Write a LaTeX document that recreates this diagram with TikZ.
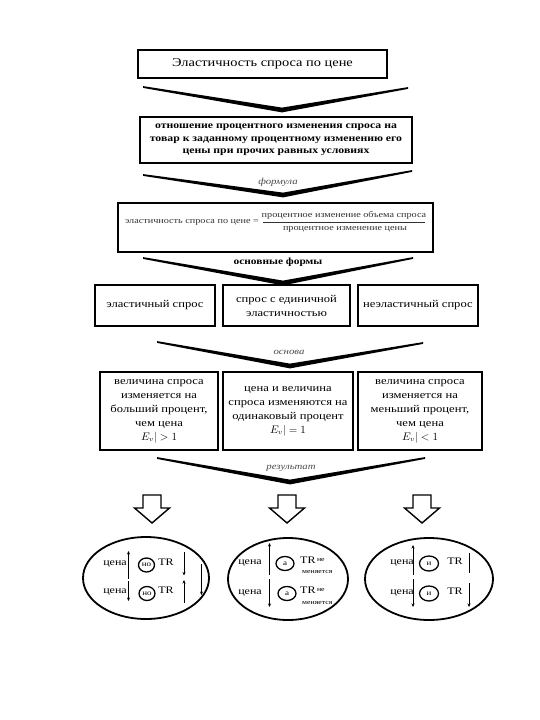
\documentclass[tikz,border=0pt]{standalone}
\usepackage{fontspec}
\setmainfont{Liberation Serif}[FakeStretch=1.2]
\usetikzlibrary{calc,arrows.meta,shapes.geometric}
\newcommand\chevdraw[3]{\fill ($(#1)+(0,-0.9)$) -- ($(#2)+(0,-2.4)$) -- ($(#3)+(0,-0.9)$) -- ($(#3)+(0,0.9)$) -- ($(#2)+(0,2.4)$) -- ($(#1)+(0,0.9)$) -- cycle;}
\newcommand\blockarrow[1]{\draw[line width=1.4pt, fill=white, line join=miter] ($(#1)+(-9,-28)$) -- ($(#1)+(9,-28)$) -- ($(#1)+(9,-15)$) -- ($(#1)+(17.5,-15)$) -- (#1) -- ($(#1)+(-17.5,-15)$) -- ($(#1)+(-9,-15)$) -- cycle;}
\begin{document}
\begin{tikzpicture}[x=1pt,y=-1pt,
  box/.style={draw, line width=1.8pt, align=center, inner sep=0pt},
  rowtext/.style={font=\fontsize{10.5}{14}\selectfont},
  lbl/.style={font=\fontsize{9}{10}\selectfont\itshape, text=black!70},
  oval/.style={draw, ellipse, line width=1.8pt, inner sep=0pt},
  ring/.style={draw, ellipse, line width=1.3pt, inner sep=0pt, minimum width=16, minimum height=14, font=\fontsize{7.5}{8}\selectfont},
  small/.style={font=\fontsize{10}{11}\selectfont, inner sep=0pt},
  tiny/.style={font=\fontsize{6.5}{7}\selectfont, inner sep=0pt, anchor=west},
  arr/.style={line width=0.8pt, -{Stealth[length=3.5pt,width=3pt]}},
  bar/.style={line width=0.8pt}]
\useasboundingbox (0,0) rectangle (540,720);
\fill[white] (0,0) rectangle (540,720);

% boxes
\node[box, line width=1.4pt, minimum width=249, minimum height=28, font=\fontsize{12}{14}\selectfont] (title) at (262.5,64) {Эластичность спроса по цене};
\node[box, minimum width=272, minimum height=46, font=\fontsize{9.8}{12.5}\selectfont\bfseries] (def) at (276,140) {отношение процентного изменения спроса на\\товар к заданному процентному изменению его\\цены при прочих равных условиях};
\node[box, minimum width=315, minimum height=49] (formula) at (275.5,227.5) {};
\node[font=\fontsize{8.5}{10}\selectfont, text=black!80, inner sep=0pt] (fl) at (192,222) {эластичность спроса по цене =};
\node[font=\fontsize{8.5}{10}\selectfont, text=black!80, inner sep=0pt] (fn) at (344,215) {процентное изменение объема спроса};
\node[font=\fontsize{8.5}{10}\selectfont, text=black!80, inner sep=0pt] (fd) at (345,229.5) {процентное изменение цены};
\coordinate (fa) at (263,222.5);
\coordinate (fb) at (425,222.5);
\draw[line width=0.6pt, black!80] (fa) -- (fb);

\node[box, rowtext, minimum width=120, minimum height=41] (f1) at (155,305.5) {эластичный спрос};
\node[box, rowtext, minimum width=127, minimum height=41] (f2) at (286.5,305.5) {спрос с единичной\\эластичностью};
\node[box, rowtext, minimum width=120, minimum height=41] (f3) at (418,305.5) {неэластичный спрос};

\node[box, rowtext, minimum width=118, minimum height=78] (b1) at (159,411) {величина спроса\\изменяется на\\больший процент,\\чем цена\\$E_v|>1$};
\node[box, rowtext, minimum width=130, minimum height=78] (b2) at (288,411) {цена и величина\\спроса изменяются на\\одинаковый процент\\$E_v|=1$};
\node[box, rowtext, minimum width=124, minimum height=78] (b3) at (420,411) {величина спроса\\изменяется на\\меньший процент,\\чем цена\\$E_v|<1$};

% chevrons
\coordinate (c1l) at (143,87);  \coordinate (c1t) at (282,110); \coordinate (c1r) at (408,88);
\coordinate (c2l) at (143,175); \coordinate (c2t) at (283,195); \coordinate (c2r) at (412,171);
\coordinate (c3l) at (143,258); \coordinate (c3t) at (283,283); \coordinate (c3r) at (413,258);
\coordinate (c4l) at (157,342); \coordinate (c4t) at (290,366); \coordinate (c4r) at (423,343);
\coordinate (c5l) at (157,458); \coordinate (c5t) at (290,482); \coordinate (c5r) at (425,458);
\chevdraw{c1l}{c1t}{c1r}
\chevdraw{c2l}{c2t}{c2r}
\chevdraw{c3l}{c3t}{c3r}
\chevdraw{c4l}{c4t}{c4r}
\chevdraw{c5l}{c5t}{c5r}
\node[lbl] (l2) at (278,182) {формула};
\node[font=\fontsize{9.5}{10}\selectfont\bfseries] (l3) at (278,262) {основные формы};
\node[lbl] (l4) at (289,352) {основа};
\node[lbl] (l5) at (291,468) {результат};

% block arrows
\coordinate (a1) at (152,523); \blockarrow{a1}
\coordinate (a2) at (287,523); \blockarrow{a2}
\coordinate (a3) at (422,523); \blockarrow{a3}

% ellipses
\node[oval, minimum width=126, minimum height=82] (e1) at (146,578) {};
\node[oval, minimum width=120, minimum height=82] (e2) at (288,579) {};
\node[oval, minimum width=128, minimum height=82] (e3) at (429,579) {};

% ellipse 1
\node[small] (p11) at (115,564.5) {цена};
\node[small] (p12) at (115,592.5) {цена};
\node[ring] (r11) at (146.5,565) {но};
\node[ring] (r12) at (147,593.5) {но};
\node[small] (t11) at (166,562) {TR};
\node[small] (t12) at (166,590) {TR};
\coordinate (u11a) at (128.5,579); \coordinate (u11b) at (128.5,551);
\coordinate (u12a) at (128.5,581); \coordinate (u12b) at (128.5,601);
\coordinate (v11a) at (184,552); \coordinate (v11b) at (184,575.5);
\coordinate (v12a) at (184,603); \coordinate (v12b) at (184,580);
\coordinate (w1a) at (201.5,564); \coordinate (w1b) at (201.5,595);
\draw[arr] (u11a) -- (u11b);
\draw[arr] (u12a) -- (u12b);
\draw[arr] (v11a) -- (v11b);
\draw[arr] (v12a) -- (v12b);
\draw[arr] (w1a) -- (w1b);

% ellipse 2
\node[small] (p21) at (250,563.5) {цена};
\node[small] (p22) at (250,593.5) {цена};
\node[ring, minimum width=18] (r21) at (285,563.5) {а};
\node[ring, minimum width=18] (r22) at (287,593.5) {а};
\node[small, anchor=west] (t21) at (300,560) {TR};
\node[tiny] (n21) at (t21.east) {\,не};
\node[tiny] (m21) at (302,572) {меняется};
\node[small, anchor=west] (t22) at (300,590) {TR};
\node[tiny] (n22) at (t22.east) {\,не};
\node[tiny] (m22) at (302,603) {меняется};
\coordinate (u21a) at (269.5,575); \coordinate (u21b) at (269.5,543);
\coordinate (u22a) at (269.5,579); \coordinate (u22b) at (269.5,607);
\draw[arr] (u21a) -- (u21b);
\draw[arr] (u22a) -- (u22b);

% ellipse 3
\node[small] (p31) at (402,563.5) {цена};
\node[small] (p32) at (402,593.5) {цена};
\node[ring, minimum width=19, minimum height=15] (r31) at (429,563.5) {и};
\node[ring, minimum width=19, minimum height=15] (r32) at (429,593.5) {и};
\node[small] (t31) at (455,561) {TR};
\node[small] (t32) at (455,591) {TR};
\coordinate (u31a) at (413,575); \coordinate (u31b) at (413,545);
\coordinate (u32a) at (413,579); \coordinate (u32b) at (413,607);
\coordinate (v31a) at (469,553); \coordinate (v31b) at (469,573);
\coordinate (v32a) at (469,583); \coordinate (v32b) at (469,607);
\draw[arr] (u31a) -- (u31b);
\draw[arr] (u32a) -- (u32b);
\draw[bar] (v31a) -- (v31b);
\draw[arr] (v32a) -- (v32b);
\end{tikzpicture}
\end{document}
